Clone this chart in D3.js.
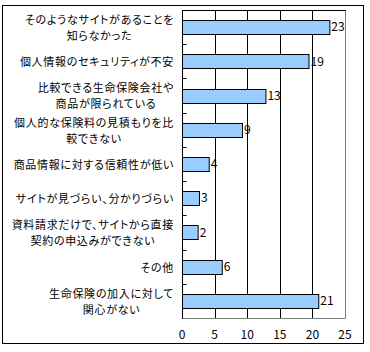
<!DOCTYPE html>
<html>
<head>
<meta charset="utf-8">
<script src="https://cdn.jsdelivr.net/npm/d3@7"></script>
<style>
  body { margin: 0; background: #fff; }
  text { font-family: "Noto Sans CJK JP", sans-serif; font-feature-settings: "palt"; }
</style>
</head>
<body>
<div id="chart"></div>
<script>
// categories (each entry is the wrapped lines of the label)
const categories = [
    ["そのようなサイトがあることを", "知らなかった"],
    ["個人情報のセキュリティが不安"],
    ["比較できる生命保険会社や", "商品が限られている"],
    ["個人的な保険料の見積もりを比", "較できない"],
    ["商品情報に対する信頼性が低い"],
    ["サイトが見づらい、分かりづらい"],
    ["資料請求だけで、サイトから直接", "契約の申込みができない"],
    ["その他"],
    ["生命保険の加入に対して", "関心がない"]
];
const values = [22.6, 19.4, 12.8, 9.2, 4.1, 2.6, 2.4, 6.1, 20.9];
const xTicks = [0, 5, 10, 15, 20, 25];

const width = 370, height = 352;
const plot = { left: 182, right: 345, top: 10, bottom: 318 };

const svg = d3.select("#chart")
    .append("svg")
    .attr("width", width)
    .attr("height", height);

// outer frame
svg.append("rect")
    .attr("x", 2.5).attr("y", 5.5)
    .attr("width", 361).attr("height", 338)
    .attr("fill", "none")
    .attr("stroke", "#000");

const x = d3.scaleLinear()
    .domain([0, 25])
    .range([plot.left, plot.right]);

const y = d3.scaleBand()
    .domain(d3.range(categories.length))
    .range([plot.top, plot.bottom])
    .padding(0);

const barH = y.bandwidth() * 0.41;

// plot area border (gray right / bottom)
svg.append("path")
    .attr("d", `M${plot.left},${plot.bottom + 0.5}H${plot.right + 0.5}V${plot.top}`)
    .attr("fill", "none")
    .attr("stroke", "#808080");

// gridlines
svg.append("g")
    .selectAll("line")
    .data(xTicks.slice(1, -1))
    .join("line")
    .attr("x1", d => Math.round(x(d)) + 0.5)
    .attr("x2", d => Math.round(x(d)) + 0.5)
    .attr("y1", plot.top)
    .attr("y2", plot.bottom)
    .attr("stroke", "#000");

// top border
svg.append("line")
    .attr("x1", plot.left).attr("x2", plot.right + 1)
    .attr("y1", plot.top + 0.5).attr("y2", plot.top + 0.5)
    .attr("stroke", "#000");

// bars
svg.append("g")
    .selectAll("rect")
    .data(values)
    .join("rect")
    .attr("x", x(0) + 0.5)
    .attr("y", (d, i) => Math.round(y(i) + (y.bandwidth() - barH) / 2) + 0.5)
    .attr("width", d => x(d) - x(0))
    .attr("height", Math.round(barH))
    .attr("fill", "#99ccff")
    .attr("stroke", "#000");

// value labels
svg.append("g")
    .selectAll("text")
    .data(values)
    .join("text")
    .attr("x", d => x(d) + 2)
    .attr("y", (d, i) => y(i) + y.bandwidth() / 2)
    .attr("dy", "0.35em")
    .style("font-size", "12px")
    .text(d => Math.round(d));

// left category axis with inward ticks at band boundaries
const axisX = Math.round(x(0)) + 0.5;
svg.append("line")
    .attr("x1", axisX).attr("x2", axisX)
    .attr("y1", plot.top).attr("y2", plot.bottom + 1)
    .attr("stroke", "#000");

svg.append("g")
    .selectAll("line")
    .data(d3.range(1, categories.length))
    .join("line")
    .attr("x1", axisX)
    .attr("x2", axisX + 4)
    .attr("y1", i => Math.round(y(i)) + 0.5)
    .attr("y2", i => Math.round(y(i)) + 0.5)
    .attr("stroke", "#000");

// category labels: block right-aligned, lines centered within block
const labelRight = 174;
const lineH = 16;
const labels = svg.append("g")
    .style("font-size", "11px")
    .style("letter-spacing", "0.7px")
    .selectAll("text")
    .data(categories)
    .join("text")
    .attr("text-anchor", "middle");

labels.each(function(lines, i) {
    const t = d3.select(this);
    const spans = t.selectAll("tspan")
        .data(lines)
        .join("tspan")
        .attr("y", (d, j) => y(i) + y.bandwidth() / 2 + (j - (lines.length - 1) / 2) * lineH + 1)
        .attr("dy", "0.35em")
        .text(d => d);
    const maxW = d3.max(spans.nodes(), n => n.getComputedTextLength());
    spans.attr("x", labelRight - maxW / 2);
});

// bottom value axis labels
svg.append("g")
    .selectAll("text")
    .data(xTicks)
    .join("text")
    .attr("x", d => x(d))
    .attr("y", 335)
    .attr("dy", "0.35em")
    .attr("text-anchor", "middle")
    .style("font-size", "12px")
    .text(d => d);
</script>
</body>
</html>
